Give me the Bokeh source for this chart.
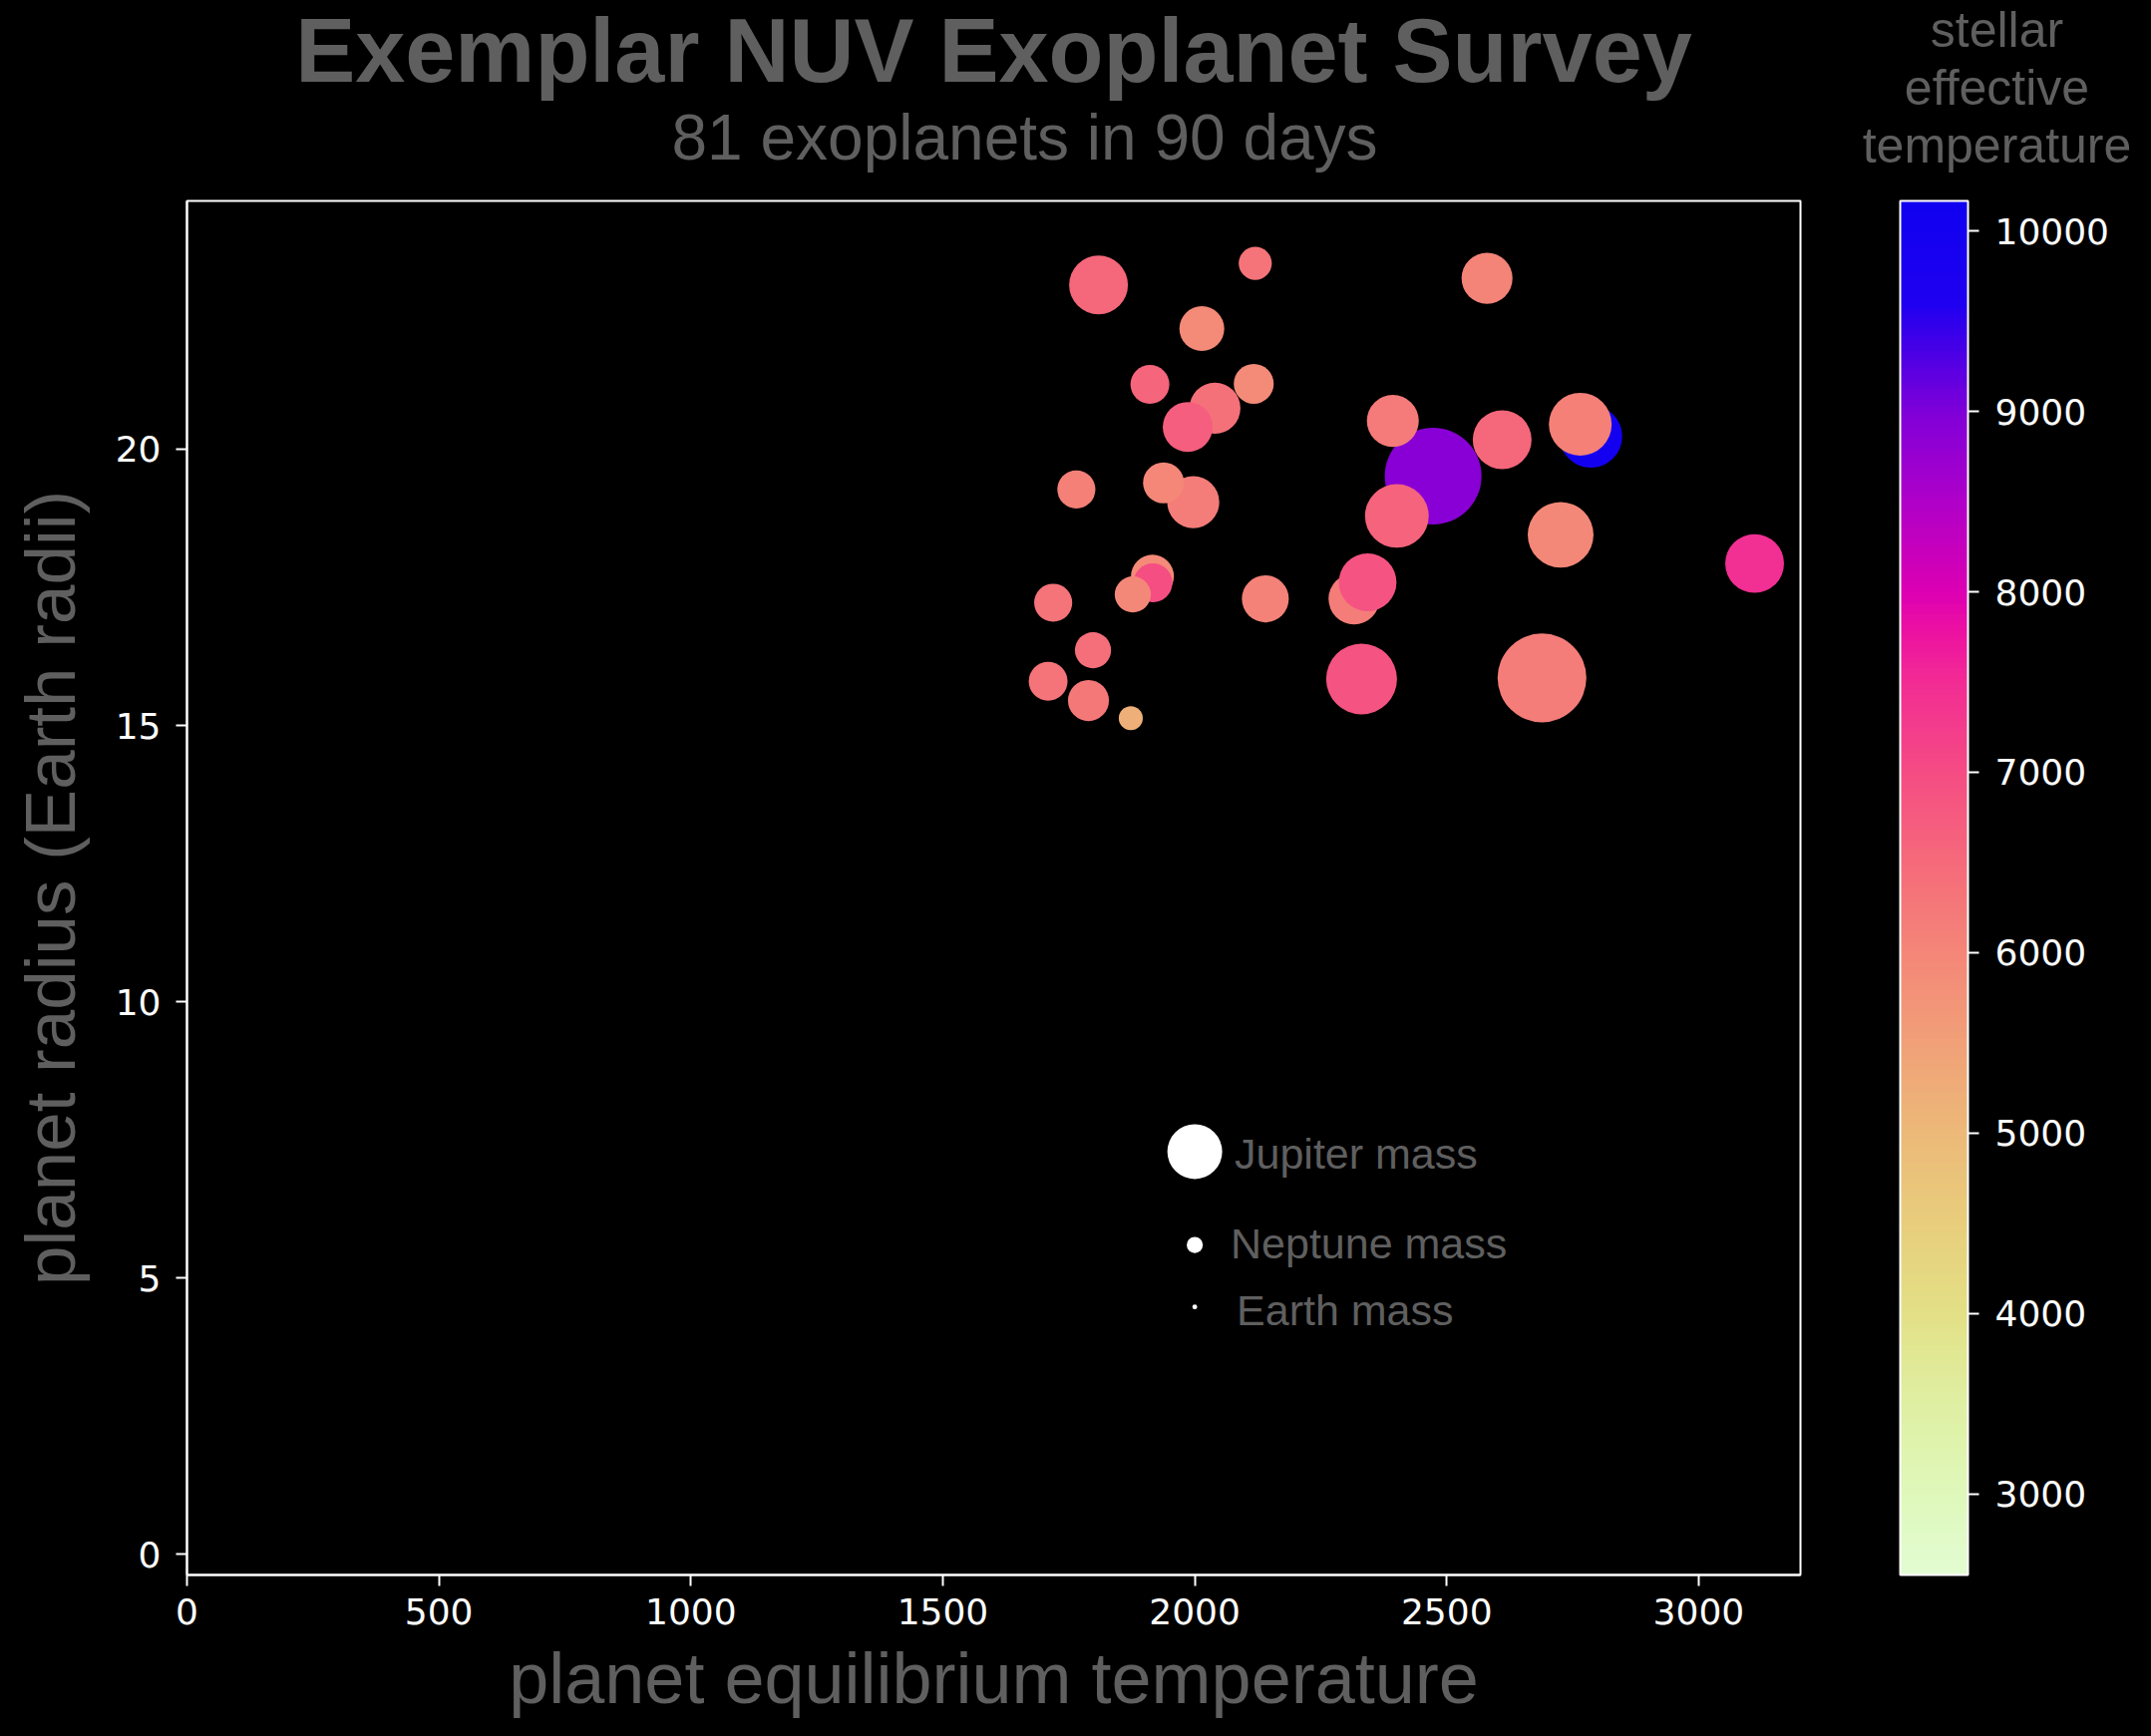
import numpy as np
from bokeh.plotting import figure
from bokeh.layouts import row
from bokeh.models import (ColumnDataSource, LinearColorMapper, ColorBar, FixedTicker,
                          Range1d, Label, Title)
from bokeh.transform import transform
from bokeh.embed import file_html
from bokeh.resources import INLINE

# ---------------- data ----------------
planet_teq = [2473, 2786, 1809, 2120, 2014, 2580, 1911, 2117, 2040, 1986, 2393, 2610,
              2765, 1765, 1997, 1938, 2401, 2726, 3111, 1916, 1917, 1877, 1719, 2140,
              2316, 2343, 1798, 1709, 1789, 1873, 2331, 2689]
planet_radius = [19.51, 20.23, 22.97, 23.36, 22.18, 23.09, 21.17, 21.18, 20.74, 20.40,
                 20.51, 20.17, 20.45, 19.27, 19.04, 19.39, 18.79, 18.45, 17.93, 17.70,
                 17.58, 17.37, 17.22, 17.29, 17.29, 17.59, 16.36, 15.80, 15.45, 15.13,
                 15.84, 15.86]
planet_mass_mj = [3.86, 1.38, 1.18, 0.30, 0.62, 0.84, 0.44, 0.47, 0.84, 0.80, 0.88, 1.18,
                  1.38, 0.42, 0.88, 0.50, 1.43, 1.54, 1.18, 0.56, 0.44, 0.37, 0.42, 0.69,
                  0.84, 1.13, 0.37, 0.44, 0.50, 0.14, 1.84, 3.15]
stellar_teff = [8900, 10000, 6540, 6320, 5920, 6040, 6590, 5900, 6360, 6700, 6210, 6540,
                6120, 6120, 6180, 6000, 6610, 5960, 7450, 5920, 6970, 5960, 6320, 6070,
                6180, 6870, 6400, 6320, 6250, 5180, 6870, 6180]

legend_names = ["Jupiter mass", "Neptune mass", "Earth mass"]
legend_mass_mj = [1.0, 0.054, 0.00315]
legend_x = [2000, 2000, 2000]
legend_y = [7.29, 5.60, 4.48]
legend_text_x = [2079, 2071, 2083]
legend_text_y = [7.26, 5.62, 4.42]

x_ticks = [0, 500, 1000, 1500, 2000, 2500, 3000]
y_ticks = [0, 5, 10, 15, 20]
cbar_ticks = [3000, 4000, 5000, 6000, 7000, 8000, 9000, 10000]

title_text = "Exemplar NUV Exoplanet Survey"
subtitle_text = "81 exoplanets in 90 days"
cbar_title_lines = ["stellar", "effective", "temperature"]

# colormap anchors (stellar temperature -> colour)
cmap_values = [2552, 3000, 3500, 4000, 4500, 5000, 5500, 6000, 6500, 7000, 7500, 7800,
               8000, 8500, 9000, 9300, 9600, 10166]
cmap_colors = ["#e2fcd2", "#dff8ba", "#dfefa2", "#e3e086", "#e8cd7c", "#ecb978",
               "#f1a078", "#f48678", "#f56a7a", "#f54c84", "#f22c94", "#ec10a2",
               "#dc00b2", "#b000c8", "#8000d8", "#5000e4", "#2000f0", "#1000f0"]

# ---------------- styling ----------------
GREY = "#5f5f5f"
SANS = "Liberation Sans"
TICKF = "DejaVu Sans"
H = 1740
MAIN_W = 1850
CB_W = 300
CB_LEFT = 55      # colour bar starts this far into its panel
CB_FRAME_W = 194  # frame width of the colour bar panel (title centred over it)


def hex2rgb(h):
    h = h.lstrip("#")
    return [int(h[i:i + 2], 16) for i in (0, 2, 4)]


rgb = np.array([hex2rgb(c) for c in cmap_colors], dtype=float)
levels = np.linspace(cmap_values[0], cmap_values[-1], 256)
palette = []
for v in levels:
    r, g, b = (np.interp(v, cmap_values, rgb[:, k]) for k in range(3))
    palette.append("#%02x%02x%02x" % (int(round(r)), int(round(g)), int(round(b))))

mapper = LinearColorMapper(palette=palette, low=cmap_values[0], high=cmap_values[-1])

size_exp = 0.42
jup_px = 55

src = ColumnDataSource(dict(
    x=planet_teq, y=planet_radius, teff=stellar_teff,
    size=[jup_px * m ** size_exp for m in planet_mass_mj],
))
leg_src = ColumnDataSource(dict(
    x=legend_x, y=legend_y,
    size=[jup_px * m ** size_exp for m in legend_mass_mj],
))

# ---------------- main scatter ----------------
p = figure(width=MAIN_W, height=H, output_backend="svg", toolbar_location=None,
           x_range=Range1d(0, 3202), y_range=Range1d(-0.37, 24.49),
           min_border_left=187, min_border_right=MAIN_W - 1805, min_border_top=201,
           min_border_bottom=161)
p.background_fill_color = "black"
p.border_fill_color = "black"
p.outline_line_color = "white"
p.outline_line_width = 2
p.grid.visible = False

# title stack (nearest to the frame first)
p.add_layout(Title(text=" ", text_font_size="1px", standoff=24), "above")
p.add_layout(Title(text=subtitle_text, text_font=SANS, text_font_size="64px",
                   text_font_style="normal", text_color=GREY, align="left",
                   offset=486, standoff=1, vertical_align="bottom"), "above")
p.add_layout(Title(text=title_text, text_font=SANS, text_font_size="90px",
                   text_font_style="bold", text_color=GREY, align="center",
                   standoff=-3, vertical_align="bottom"), "above")

for ax in (p.xaxis[0], p.yaxis[0]):
    ax.axis_line_color = "white"
    ax.axis_line_width = 2
    ax.major_tick_line_color = "white"
    ax.major_tick_line_width = 2
    ax.major_tick_out = 11
    ax.major_tick_in = 0
    ax.minor_tick_line_color = None
    ax.major_label_text_color = "white"
    ax.major_label_text_font = TICKF
    ax.major_label_text_font_size = "36px"
    ax.axis_label_text_font = SANS
    ax.axis_label_text_font_style = "normal"
    ax.axis_label_text_color = GREY

p.xaxis.ticker = FixedTicker(ticks=x_ticks)
p.yaxis.ticker = FixedTicker(ticks=y_ticks)
p.xaxis.major_label_standoff = 12
p.yaxis.major_label_standoff = 15

p.xaxis.axis_label = "planet equilibrium temperature"
p.xaxis.axis_label_text_font_size = "72px"
p.xaxis.axis_label_standoff = 11
p.yaxis.axis_label = "planet radius (Earth radii)"
p.yaxis.axis_label_text_font_size = "71px"
p.yaxis.axis_label_standoff = 23

p.scatter("x", "y", size="size", source=src, marker="circle",
          fill_color=transform("teff", mapper), line_color=None)

p.scatter("x", "y", size="size", source=leg_src, marker="circle",
          fill_color="white", line_color=None)

for name, tx, ty in zip(legend_names, legend_text_x, legend_text_y):
    p.add_layout(Label(x=tx, y=ty, text=name, text_font=SANS,
                       text_font_size="43px", text_color=GREY,
                       text_baseline="middle", text_align="left"))

# ---------------- colour bar panel ----------------
cbf = figure(width=CB_W, height=H, output_backend="svg", toolbar_location=None,
             x_range=Range1d(0, 1), y_range=Range1d(0, 1),
             x_axis_location=None, y_axis_location=None,
             min_border_left=CB_LEFT, min_border_right=CB_W - CB_LEFT - CB_FRAME_W,
             min_border_top=201, min_border_bottom=161)
cbf.background_fill_color = "black"
cbf.border_fill_color = "black"
cbf.outline_line_color = None
cbf.grid.visible = False

cbf.add_layout(Title(text=" ", text_font_size="1px", standoff=25), "above")
for txt, so in zip(reversed(cbar_title_lines), [-1, 1, -1]):
    cbf.add_layout(Title(text=txt, text_font=SANS, text_font_size="50px",
                         text_font_style="normal", text_color=GREY, align="center",
                         standoff=so, vertical_align="bottom"), "above")

cb = ColorBar(color_mapper=mapper, ticker=FixedTicker(ticks=cbar_ticks),
              location=(0, 0), width=68, height=1378, padding=0, margin=0,
              bar_line_color="white", bar_line_width=2,
              major_tick_line_color="white", major_tick_line_width=2,
              major_tick_in=0, major_tick_out=11, minor_tick_line_color=None,
              major_label_text_color="white", major_label_text_font=TICKF,
              major_label_text_font_size="36px", label_standoff=16,
              background_fill_color=None, border_line_color=None)
cbf.add_layout(cb)

layout = row(p, cbf, spacing=0)

try:
    from bokeh.models import GlobalInlineStyleSheet
    layout.stylesheets = [GlobalInlineStyleSheet(css="body { background-color: black; }")]
except Exception:
    pass

open("out.html", "w").write(file_html(layout, INLINE))
